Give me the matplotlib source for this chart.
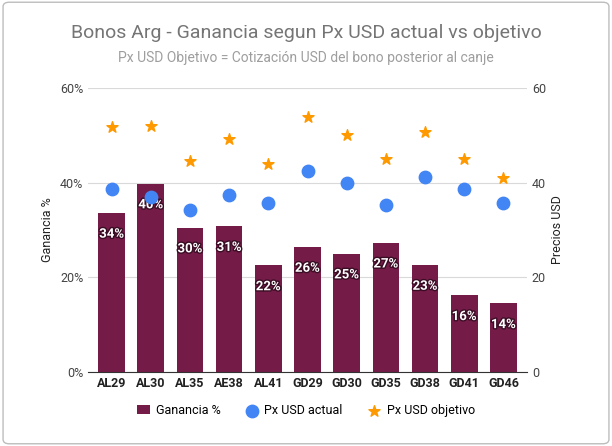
import matplotlib.pyplot as plt
import matplotlib.patheffects as pe
from matplotlib.patches import FancyBboxPatch
import numpy as np

bonos = ['AL29', 'AL30', 'AL35', 'AE38', 'AL41', 'GD29', 'GD30', 'GD35', 'GD38', 'GD41', 'GD46']
ganancia = [33.6, 39.8, 30.5, 30.8, 22.5, 26.4, 25.0, 27.3, 22.6, 16.2, 14.5]
px_actual = [38.7, 36.9, 34.1, 37.4, 35.7, 42.4, 39.9, 35.3, 41.2, 38.7, 35.7]
px_objetivo = [51.8, 52.0, 44.6, 49.2, 43.9, 53.8, 50.1, 45.0, 50.7, 45.0, 41.0]

plt.rcParams['font.family'] = ['Roboto', 'DejaVu Sans']
fig = plt.figure(figsize=(6.12, 4.46), dpi=100)
fig.patches.append(FancyBboxPatch((0.005, 0.005), 0.99, 0.99, boxstyle='round,pad=0,rounding_size=0.01',
                                  transform=fig.transFigure, fc='white', ec='#bdbdbd', lw=1,
                                  zorder=-10))
ax = fig.add_axes([0.144, 0.166, 0.717, 0.637])
ax.patch.set_alpha(0)
ax2 = ax.twinx()
x = np.arange(len(bonos))

ax.bar(x, ganancia, width=0.68, color='#741b47', zorder=2, label='Ganancia %')
for xi, g in zip(x, ganancia):
    ax.text(xi, g - 4.5, f'{round(g):.0f}%', ha='center', va='center', color='white',
            fontsize=9.5, fontweight='bold',
            path_effects=[pe.withStroke(linewidth=2, foreground='#3a0d24')], zorder=5)
ax2.scatter(x, px_actual, s=80, color='#4285f4', zorder=3, label='Px USD actual')
ax2.scatter(x, px_objetivo, s=70, marker='*', color='#ff9900', zorder=3, label='Px USD objetivo')

ax.set_ylim(0, 60)
ax2.set_ylim(0, 60)
ax.set_xlim(-0.6, len(bonos) - 0.4)
ax.set_yticks([0, 20, 40, 60])
ax.set_yticklabels(['0%', '20%', '40%', '60%'])
ax2.set_yticks([0, 20, 40, 60])
ax.set_xticks(x)
ax.set_xticklabels(bonos, fontweight='bold', fontsize=9, color='#222222')
ax.grid(axis='y', color='#d9d9d9', lw=0.8, zorder=0)
ax.set_axisbelow(True)
for a in (ax, ax2):
    for s in a.spines.values():
        s.set_visible(False)
    a.tick_params(length=0, labelsize=9, labelcolor='#444444')
ax.spines['bottom'].set_visible(True)
ax.spines['bottom'].set_color('#333333')
ax.tick_params(axis='x', labelcolor='#222222')
ax.set_ylabel('Ganancia %', fontsize=9, color='#222222')
ax2.set_ylabel('Precios USD', fontsize=9, color='#222222')

fig.text(0.5, 0.915, 'Bonos Arg - Ganancia segun Px USD actual vs objetivo', ha='center',
         fontsize=14, color='#757575')
fig.text(0.5, 0.862, 'Px USD Objetivo = Cotización USD del bono posterior al canje', ha='center',
         fontsize=10, color='#9e9e9e')

h1, l1 = ax.get_legend_handles_labels()
h2, l2 = ax2.get_legend_handles_labels()
fig.legend(h1 + h2, l1 + l2, loc='center', bbox_to_anchor=(0.5, 0.08), ncol=3, frameon=False,
           fontsize=9, handlelength=1, handletextpad=0.5, columnspacing=2)
fig.savefig('out.png', dpi=100)
